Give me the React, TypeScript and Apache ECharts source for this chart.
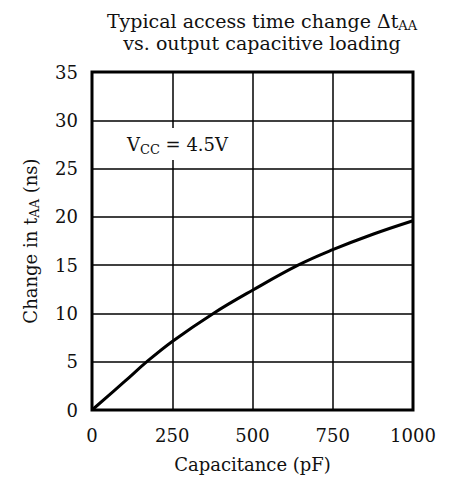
import React, { useEffect, useRef } from "react";
import * as echarts from "echarts";

const capacitance = [0, 100, 171, 250, 378, 500, 642, 750, 875, 1000];
const deltaTaa = [0, 2.9, 5, 7.1, 10, 12.4, 15, 16.6, 18.2, 19.6];
const xTicks = [0, 250, 500, 750, 1000];
const yTicks = [0, 5, 10, 15, 20, 25, 30, 35];

const FONT = "DejaVu Serif";

export default function App() {
  const ref = useRef<HTMLDivElement>(null);
  useEffect(() => {
    if (!ref.current) return;
    const chart = echarts.init(ref.current, undefined, { renderer: "svg" });
    chart.setOption({
      animation: false,
      backgroundColor: "#ffffff",
      title: {
        text: "Typical access time change Δt{sub|AA}\nvs. output capacitive loading",
        left: 257,
        textAlign: "center",
        top: 5,
        textStyle: {
          fontFamily: FONT,
          fontSize: 19,
          fontWeight: "normal",
          color: "#111",
          lineHeight: 22,
          rich: {
            sub: { fontFamily: FONT, fontSize: 13, verticalAlign: "bottom", padding: [8, 0, 0, 0], color: "#111" },
          },
        },
      },
      grid: {
        left: 92,
        right: 39,
        top: 72,
        bottom: 73,
        show: true,
        borderColor: "#000",
        borderWidth: 3,
        containLabel: false,
      },
      xAxis: {
        type: "value",
        min: 0,
        max: 1000,
        interval: 250,
        name: "Capacitance (pF)",
        nameLocation: "middle",
        nameGap: 45,
        nameTextStyle: { fontFamily: FONT, fontSize: 18, color: "#111" },
        axisLine: { show: false },
        axisTick: { show: false },
        axisLabel: {
          fontFamily: FONT,
          fontSize: 18,
          color: "#111",
          margin: 16,
          formatter: (v: number) => (xTicks.includes(v) ? String(v) : ""),
        },
        splitLine: { show: true, lineStyle: { color: "#000", width: 1.5 } },
      },
      yAxis: {
        type: "value",
        min: 0,
        max: 35,
        interval: 5,
        name: "Change in t{sub|AA} (ns)",
        nameLocation: "middle",
        nameGap: 51,
        nameTextStyle: {
          fontFamily: FONT,
          fontSize: 18,
          color: "#111",
          rich: {
            sub: { fontFamily: FONT, fontSize: 13, color: "#111", verticalAlign: "bottom", padding: [8, 0, 0, 0] },
          },
        },
        axisLine: { show: false },
        axisTick: { show: false },
        axisLabel: {
          fontFamily: FONT,
          fontSize: 18,
          color: "#111",
          margin: 14,
          formatter: (v: number) => (yTicks.includes(v) ? String(v) : ""),
        },
        splitLine: { show: true, lineStyle: { color: "#000", width: 1.5 } },
      },
      series: [
        {
          type: "line",
          data: capacitance.map((c, i) => [c, deltaTaa[i]]),
          smooth: 0.4,
          symbol: "none",
          lineStyle: { color: "#000", width: 3 },
          z: 5,
        },
      ],
      graphic: [
        {
          type: "rect",
          shape: { x: 118, y: 128, width: 122, height: 32 },
          style: { fill: "#fff" },
          z: 10,
        },
        {
          type: "text",
          x: 127,
          y: 144,
          z: 11,
          style: {
            text: "V{sub|CC} = 4.5V",
            fontFamily: FONT,
            fontSize: 18,
            fill: "#111",
            verticalAlign: "middle",
            rich: { sub: { fontFamily: FONT, fontSize: 13, fill: "#111", padding: [10, 0, 0, 0] } },
          },
        },
      ],
    });
    return () => chart.dispose();
  }, []);
  return <div ref={ref} style={{ width: 452, height: 483, margin: -8 }} />;
}
